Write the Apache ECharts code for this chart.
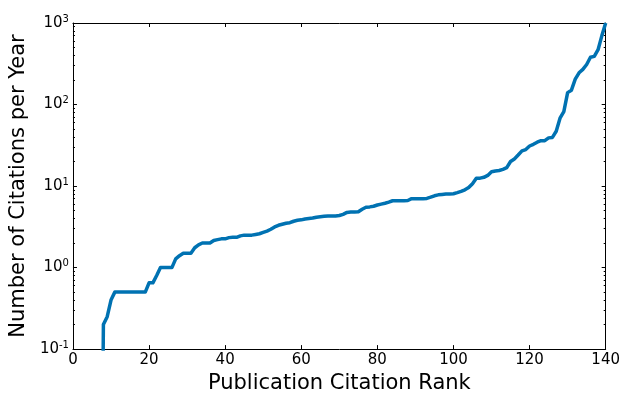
<!DOCTYPE html>
<html><head><meta charset="utf-8">
<script src="https://cdn.jsdelivr.net/npm/echarts@6/dist/echarts.min.js"></script>
<style>html,body{margin:0;padding:0;background:#fff}#c{width:623px;height:399px}</style>
</head><body><div id="c"></div>
<script>
// Rank (x) and citations per year (y); rank 7 has zero citations (drawn as a tiny value below the axis)
const ranks = [];
for (let r = 7; r <= 140; r++) ranks.push(r);
const citations = [
  1e-6, 0.2, 0.25, 0.4, 0.5, 0.5, 0.5, 0.5, 0.5, 0.5, 0.5, 0.5, 0.5,
  0.65, 0.65, 0.8, 1.0, 1.0, 1.0, 1.0, 1.28, 1.4, 1.5, 1.5, 1.5,
  1.75, 1.9, 2.0, 2.0, 2.0, 2.15, 2.2, 2.25, 2.25, 2.33, 2.35, 2.35,
  2.45, 2.5, 2.5, 2.5, 2.55, 2.6, 2.7, 2.8, 2.95, 3.15, 3.3, 3.4, 3.5,
  3.55, 3.7, 3.8, 3.85, 3.95, 4.0, 4.05, 4.15, 4.2, 4.25, 4.3, 4.3, 4.3,
  4.35, 4.5, 4.75, 4.8, 4.8, 4.85, 5.2, 5.5, 5.55, 5.65, 5.85, 6.0,
  6.15, 6.35, 6.6, 6.6, 6.6, 6.6, 6.65, 7.0, 7.0, 7.0, 7.0, 7.05, 7.3,
  7.6, 7.8, 7.9, 8.0, 8.0, 8.05, 8.3, 8.6, 9.0, 9.6, 10.7, 12.5, 12.5,
  12.8, 13.5, 15.0, 15.3, 15.5, 16.0, 16.8, 20.0, 21.5, 24.0, 27.0, 28.0,
  31.0, 32.5, 34.5, 36.0, 36.0, 39.0, 39.5, 47.0, 68.0, 82.0, 140.0,
  150.0, 205.0, 245.0, 270.0, 310.0, 380.0, 390.0, 470.0, 700.0, 1000.0
];
const xTicks = [0, 20, 40, 60, 80, 100, 120, 140];
const yExponents = [-1, 0, 1, 2, 3];

const font = 'DejaVu Sans';
const xMin = xTicks[0], xMax = xTicks[xTicks.length - 1];
const yMin = Math.pow(10, yExponents[0]), yMax = Math.pow(10, yExponents[yExponents.length - 1]);

const chart = echarts.init(document.getElementById('c'));
const seriesData = ranks.map((r, i) => [r, citations[i]]);
const axisLineStyle = {show: true, onZero: false, lineStyle: {color: '#000', width: 1}};
const tickStyle = {show: true, inside: true, length: 4, lineStyle: {color: '#000'}};
const minorTickStyle = {show: true, splitNumber: 9, length: 2, lineStyle: {color: '#000', width: 1}};
const option = {
  animation: false,
  grid: {left: 72, right: 17, top: 23, bottom: 46, containLabel: false},
  xAxis: [{
    type: 'value', min: xMin, max: xMax, interval: xTicks[1] - xTicks[0],
    name: 'Publication Citation Rank', nameLocation: 'middle', nameGap: 22,
    nameTextStyle: {fontFamily: font, fontSize: 21, color: '#000'},
    axisLine: axisLineStyle, axisTick: tickStyle,
    axisLabel: {fontFamily: font, fontSize: 15, color: '#000', margin: 4},
    splitLine: {show: false}
  }, {
    type: 'value', min: xMin, max: xMax, interval: xTicks[1] - xTicks[0], position: 'top',
    axisLine: axisLineStyle, axisTick: tickStyle,
    axisLabel: {show: false}, splitLine: {show: false}
  }],
  yAxis: [{
    type: 'log', logBase: 10, min: yMin, max: yMax,
    name: 'Number of Citations per Year', nameLocation: 'middle', nameGap: 40,
    nameTextStyle: {fontFamily: font, fontSize: 21, color: '#000'},
    axisLine: axisLineStyle, axisTick: tickStyle, minorTick: minorTickStyle,
    axisLabel: {
      fontFamily: font, fontSize: 15, color: '#000', margin: 4,
      formatter: v => '10{sup|' + Math.round(Math.log10(v)) + '}',
      rich: {sup: {fontFamily: font, fontSize: 10, color: '#000', verticalAlign: 'top', padding: [0, 0, 8, 0]}}
    },
    splitLine: {show: false}
  }, {
    type: 'log', logBase: 10, min: yMin, max: yMax, position: 'right',
    axisLine: axisLineStyle, axisTick: tickStyle, minorTick: minorTickStyle,
    axisLabel: {show: false}, splitLine: {show: false}
  }],
  series: [{
    type: 'line', data: seriesData, showSymbol: false, clip: true,
    lineStyle: {color: '#0072B2', width: 3.5, join: 'round', cap: 'butt'}
  }]
};
chart.setOption(option);
</script></body></html>
